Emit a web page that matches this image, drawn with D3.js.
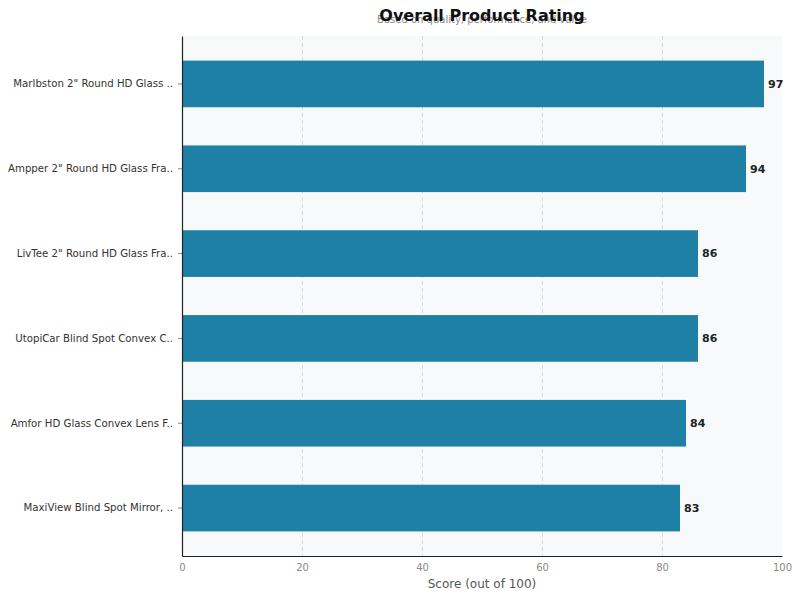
<!DOCTYPE html>
<html lang="en">
<head>
<meta charset="UTF-8">
<title>Overall Product Rating</title>
<script src="https://d3js.org/d3.v7.min.js"></script>
<style>
    body { margin: 0; background: #fff; font-family: "DejaVu Sans", sans-serif; }
    .grid line { stroke: #cfd3d8; stroke-dasharray: 4,3; stroke-width: 0.8px; }
    .grid path { display: none; }
</style>
</head>
<body>
<div id="chart"></div>
<script>
    // data
    var products = [
        "Marlbston 2\" Round HD Glass ..",
        "Ampper 2\" Round HD Glass Fra..",
        "LivTee 2\" Round HD Glass Fra..",
        "UtopiCar Blind Spot Convex C..",
        "Amfor HD Glass Convex Lens F..",
        "MaxiView Blind Spot Mirror, .."
    ];
    var scores = [97, 94, 86, 86, 84, 83];
    var xTicks = [0, 20, 40, 60, 80, 100];

    var data = products.map(function(p, i) { return {name: p, score: scores[i]}; });

    var W = 800, H = 600;
    var margin = {top: 36, right: 18, bottom: 44, left: 182};
    var width = W - margin.left - margin.right,
        height = H - margin.top - margin.bottom;

    var svg = d3.select("#chart").append("svg")
        .attr("width", W)
        .attr("height", H);

    var g = svg.append("g")
        .attr("transform", "translate(" + margin.left + "," + margin.top + ")");

    var x = d3.scaleLinear().domain([0, 100]).range([0, width]);
    var y = d3.scaleBand().domain(products).range([0, height])
        .paddingInner(0.45).paddingOuter(0.29);

    // plot background
    g.append("rect")
        .attr("width", width)
        .attr("height", height)
        .attr("fill", "#f7f9fb");

    // vertical grid lines
    g.append("g")
        .attr("class", "grid")
        .call(d3.axisBottom(x).tickValues(xTicks.slice(1, -1)).tickSize(height).tickFormat(""));

    // bars
    g.selectAll(".bar")
        .data(data)
        .enter().append("rect")
        .attr("class", "bar")
        .attr("x", x(0))
        .attr("y", function(d) { return y(d.name); })
        .attr("width", function(d) { return x(d.score) - x(0); })
        .attr("height", y.bandwidth())
        .attr("fill", "#1f80a6");

    // value labels
    g.selectAll(".val")
        .data(data)
        .enter().append("text")
        .attr("x", function(d) { return x(d.score) + 4; })
        .attr("y", function(d) { return y(d.name) + y.bandwidth() / 2; })
        .attr("dy", "0.35em")
        .style("font-size", "11px")
        .style("font-weight", "bold")
        .style("fill", "#222")
        .text(function(d) { return d.score; });

    // x axis
    var xAxis = g.append("g")
        .attr("transform", "translate(0," + height + ")")
        .call(d3.axisBottom(x).tickValues(xTicks).tickSize(0).tickPadding(8));
    xAxis.select(".domain").attr("stroke", "#222").attr("stroke-width", 1.2);
    xAxis.selectAll("text").style("font-size", "10px").style("fill", "#8a8a8a")
        .style("font-family", "DejaVu Sans, sans-serif");

    // y axis
    var yAxis = g.append("g")
        .call(d3.axisLeft(y).tickSize(4).tickPadding(5).tickSizeOuter(0));
    yAxis.select(".domain").attr("stroke", "#222").attr("stroke-width", 1.2);
    yAxis.selectAll(".tick line").attr("stroke", "#888");
    yAxis.selectAll("text").style("font-size", "10.2px").style("fill", "#333")
        .style("font-family", "DejaVu Sans, sans-serif");

    // axis label
    svg.append("text")
        .attr("x", margin.left + width / 2)
        .attr("y", 588)
        .attr("text-anchor", "middle")
        .style("font-size", "12px")
        .style("fill", "#555")
        .text("Score (out of 100)");

    // subtitle then title (they overlap in the original too)
    svg.append("text")
        .attr("x", margin.left + width / 2)
        .attr("y", 23)
        .attr("text-anchor", "middle")
        .style("font-size", "10px")
        .style("fill", "#888")
        .text("Based on quality, performance, and value");

    svg.append("text")
        .attr("x", margin.left + width / 2)
        .attr("y", 21)
        .attr("text-anchor", "middle")
        .style("font-size", "16px")
        .style("font-weight", "bold")
        .style("fill", "#111")
        .text("Overall Product Rating");
</script>
</body>
</html>
